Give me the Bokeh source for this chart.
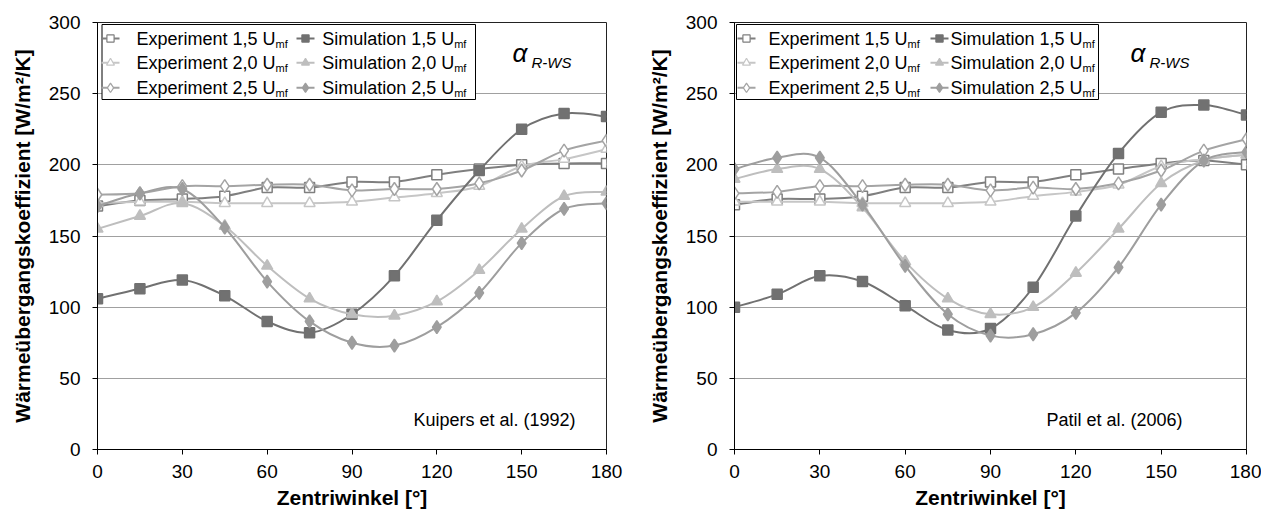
from bokeh.plotting import figure
from bokeh.models import Range1d, FixedTicker
from bokeh.layouts import row
from bokeh.embed import file_html
from bokeh.resources import INLINE
from bokeh.core.properties import value

# ---------------- data ----------------
angles = [0, 15, 30, 45, 60, 75, 90, 105, 120, 135, 150, 165, 180]
x_ticks = [0, 30, 60, 90, 120, 150, 180]
y_ticks = [0, 50, 100, 150, 200, 250, 300]

# Kuipers et al. (1992)
k_exp_15 = [171, 175, 176, 178, 184, 184, 188, 188, 193, 197, 200, 201, 201]
k_exp_20 = [173, 174, 174, 173, 173, 173, 174, 177, 180, 185, 199, 204, 211]
k_exp_25 = [179, 180, 185, 185, 186, 186, 182, 183, 183, 187, 196, 210, 217]
k_sim_15 = [106, 113, 119, 108, 90, 82, 95, 122, 161, 196, 225, 236, 234]
k_sim_20 = [155, 164, 173, 157, 129, 106, 95, 94, 104, 126, 155, 178, 181]
k_sim_25 = [171, 180, 183, 156, 118, 90, 75, 73, 86, 110, 145, 169, 173]

# Patil et al. (2006)
p_exp_15 = [172, 176, 176, 178, 184, 184, 188, 188, 193, 197, 201, 203, 200]
p_exp_20 = [174, 174, 174, 173, 173, 173, 174, 178, 181, 186, 199, 204, 207]
p_exp_25 = [180, 181, 185, 185, 186, 186, 182, 184, 183, 187, 196, 210, 218]
p_sim_15 = [100, 109, 122, 118, 101, 84, 85, 114, 164, 208, 237, 242, 235]
p_sim_20 = [190, 197, 197, 170, 132, 106, 95, 100, 124, 155, 187, 203, 207]
p_sim_25 = [197, 205, 205, 172, 129, 95, 80, 81, 96, 128, 172, 203, 209]

exp_labels = ["Experiment  1,5 U", "Experiment  2,0 U", "Experiment  2,5 U"]
sim_labels = ["Simulation  1,5 U", "Simulation  2,0 U", "Simulation  2,5 U"]
sub_label = "mf"
y_label = "Wärmeübergangskoeffizient [W/m²/K]"
x_label = "Zentriwinkel [°]"
alpha_main = "α"
alpha_sub = "R-WS"

FONT = "Liberation Sans"
FH = 427


def smooth(xs, ys):
    n = len(xs)
    out = dict(x0=[], y0=[], x1=[], y1=[], cx0=[], cy0=[], cx1=[], cy1=[])
    for i in range(n - 1):
        im = max(i - 1, 0)
        ip2 = min(i + 2, n - 1)
        out["x0"].append(xs[i]); out["y0"].append(ys[i])
        out["x1"].append(xs[i + 1]); out["y1"].append(ys[i + 1])
        out["cx0"].append(xs[i] + (xs[i + 1] - xs[im]) / 6.0)
        out["cy0"].append(ys[i] + (ys[i + 1] - ys[im]) / 6.0)
        out["cx1"].append(xs[i + 1] - (xs[ip2] - xs[i]) / 6.0)
        out["cy1"].append(ys[i + 1] - (ys[ip2] - ys[i]) / 6.0)
    return out


STYLES = [
    # marker, line color, fill, size
    ("square", "#7f7f7f", "white", 10),
    ("triangle", "#c6c6c6", "white", 11),
    ("diamond", "#a4a4a4", "white", 13),
    ("square", "#717171", "#717171", 10),
    ("triangle", "#bebebe", "#bebebe", 11),
    ("diamond", "#9e9e9e", "#9e9e9e", 13),
]


def panel(series, src_text, fw, bl, br, leg, alpha_px, src_px):
    p = figure(frame_width=fw, frame_height=FH,
               x_range=Range1d(0, 180), y_range=Range1d(0, 300),
               output_backend="svg", toolbar_location=None,
               min_border_left=bl, min_border_right=br,
               min_border_top=22, min_border_bottom=63)
    px = lambda v: v * 180.0 / fw
    py = lambda v: 300.0 - v * 300.0 / FH

    p.xaxis.ticker = FixedTicker(ticks=x_ticks)
    p.yaxis.ticker = FixedTicker(ticks=y_ticks)
    p.xgrid.visible = False
    p.ygrid.grid_line_color = "#a0a0a0"
    p.ygrid.grid_line_width = 1
    p.outline_line_color = "#222222"
    p.outline_line_width = 1
    for ax in (p.xaxis, p.yaxis):
        ax.axis_line_color = "black"
        ax.major_tick_line_color = "black"
        ax.major_tick_in = 0
        ax.major_tick_out = 5
        ax.minor_tick_line_color = None
        ax.major_label_text_font = FONT
        ax.major_label_text_font_size = "19px"
        ax.major_label_text_color = "black"
        ax.axis_label_text_font = FONT
        ax.axis_label_text_font_size = "21px"
        ax.axis_label_text_font_style = "bold"
        ax.axis_label_text_color = "black"
    p.xaxis.major_label_standoff = 10
    p.xaxis.axis_label_standoff = 5
    p.yaxis.major_label_standoff = 12
    p.yaxis.axis_label_standoff = 12
    p.xaxis.axis_label = x_label
    p.yaxis.axis_label = y_label

    for ys, (mk, lc, fc, sz) in zip(series, STYLES):
        p.bezier(line_color=lc, line_width=2, **smooth(angles, ys))
        p.scatter(angles, ys, marker=mk, size=sz, line_color=lc,
                  fill_color=fc, line_width=1.5)

    # legend box
    bx0, bx1, by0, by1 = leg["box"]
    p.quad(left=[px(bx0)], right=[px(bx1)], top=[py(by0)], bottom=[py(by1)],
           fill_color="white", line_color="black", line_width=1)
    rows_y = leg["rows"]
    for col in range(2):
        mx, tx = leg["cols"][col]
        labels = exp_labels if col == 0 else sim_labels
        for r in range(3):
            mk, lc, fc, sz = STYLES[col * 3 + r]
            yy = py(rows_y[r])
            p.segment(x0=[px(mx - 9)], x1=[px(mx + 9)], y0=[yy], y1=[yy],
                      line_color=lc, line_width=2)
            p.scatter([px(mx)], [yy], marker=mk, size=sz * 0.72,
                      line_color=lc, fill_color=fc, line_width=1.2)
            p.text([px(tx)], [yy], text=[labels[r]], text_font=value(FONT),
                   text_font_size=value("18px"), text_baseline="middle",
                   text_align="left", text_color="black")
            p.text([px(tx + leg["subdx"][col])], [yy], text=[sub_label],
                   text_font=value(FONT), text_font_size=value("11px"),
                   text_baseline="middle", text_align="left",
                   text_color="black", y_offset=5)

    ax_, ay_ = alpha_px
    p.text([px(ax_)], [py(ay_)], text=[alpha_main], text_font=value(FONT),
           text_font_size=value("26px"), text_font_style="italic",
           text_baseline="middle", text_align="left", text_color="black")
    p.text([px(ax_ + 19)], [py(ay_ + 10)], text=[alpha_sub], text_font=value(FONT),
           text_font_size=value("15px"), text_font_style="italic",
           text_baseline="alphabetic", text_align="left", text_color="black")

    sx, sy = src_px
    p.text([px(sx)], [py(sy)], text=[src_text], text_font=value(FONT),
           text_font_size=value("18px"), text_baseline="middle",
           text_align="right", text_color="black")
    return p


leg1 = dict(box=(4.5, 378, 2, 77), rows=[16, 40.3, 65.3],
            cols=[(13, 39), (208, 224.7)], subdx=[139, 132])
leg2 = dict(box=(2, 364, 2, 77), rows=[16, 40.3, 65.3],
            cols=[(12, 34), (205, 216)], subdx=[139, 132])

p1 = panel([k_exp_15, k_exp_20, k_exp_25, k_sim_15, k_sim_20, k_sim_25],
           "Kuipers et al. (1992)", 509, 97, 20, leg1, (415, 30), (478, 397))
p2 = panel([p_exp_15, p_exp_20, p_exp_25, p_sim_15, p_sim_20, p_sim_25],
           "Patil et al. (2006)", 512, 108, 15, leg2, (396, 30), (448, 397))

layout = row(p1, p2)
open("out.html", "w").write(file_html(layout, INLINE))
